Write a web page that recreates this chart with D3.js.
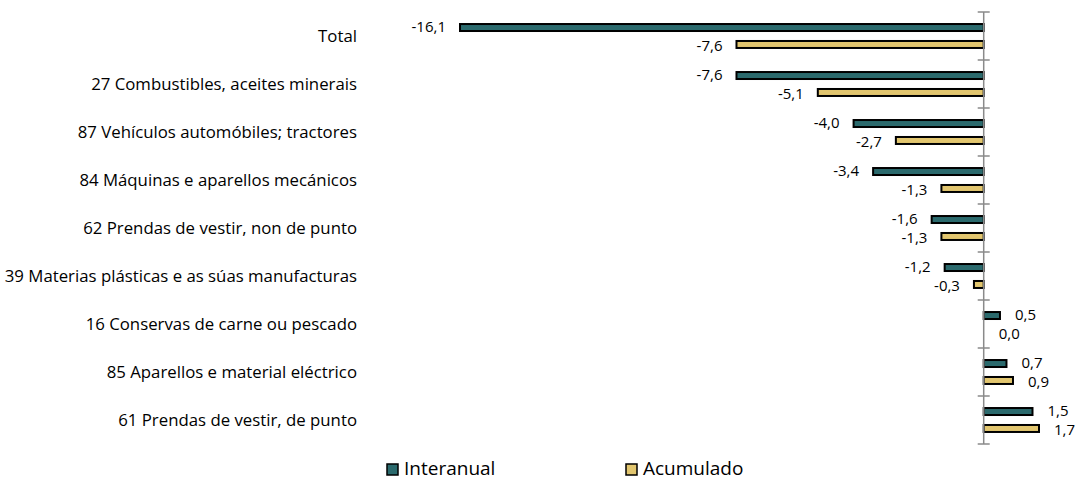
<!DOCTYPE html>
<html>
<head>
<meta charset="utf-8">
<script src="https://d3js.org/d3.v7.min.js"></script>
<style>
  body { margin: 0; background: #fff; }
  svg { font-family: "Open Sans", "Noto Sans", sans-serif; }
</style>
</head>
<body>
<svg id="drawing_region"></svg>
<script>
const categories = [
    "Total",
    "27 Combustibles, aceites minerais",
    "87 Vehículos automóbiles; tractores",
    "84 Máquinas e aparellos mecánicos",
    "62 Prendas de vestir, non de punto",
    "39 Materias plásticas e as súas manufacturas",
    "16 Conservas de carne ou pescado",
    "85 Aparellos e material eléctrico",
    "61 Prendas de vestir, de punto"
];
const seriesNames = ["Interanual", "Acumulado"];
const interanual = [-16.1, -7.6, -4.0, -3.4, -1.6, -1.2, 0.5, 0.7, 1.5];
const acumulado = [-7.6, -5.1, -2.7, -1.3, -1.3, -0.3, 0.0, 0.9, 1.7];
const colors = ["#2b6a6d", "#e2c66f"];

const width = 1078, height = 480;

const svg = d3.select('#drawing_region')
    .attr('width', width)
    .attr('height', height);

const xscale = d3.scaleLinear()
    .domain([-16.1, 1.7])
    .range([460, 1039]);

const yscale = d3.scaleBand()
    .domain(categories)
    .range([12, 444]);

const sscale = d3.scaleBand()
    .domain(seriesNames)
    .range([0, yscale.bandwidth()])
    .paddingInner(0.47)
    .paddingOuter(0.65);

const data = [];
categories.forEach((c, i) => {
    data.push({ cat: c, s: "Interanual", v: interanual[i] });
    data.push({ cat: c, s: "Acumulado", v: acumulado[i] });
});

const fmt = v => d3.format(".1f")(v).replace("−", "-").replace(".", ",");

// bars
svg.append('g').selectAll('rect')
    .data(data)
    .enter()
    .append('rect')
    .attr('x', d => Math.min(xscale(0), xscale(d.v)))
    .attr('y', d => yscale(d.cat) + sscale(d.s) + 1)
    .attr('width', d => Math.abs(xscale(d.v) - xscale(0)))
    .attr('height', sscale.bandwidth() - 2)
    .attr('fill', d => colors[seriesNames.indexOf(d.s)])
    .attr('stroke', '#000')
    .attr('stroke-width', 2);

// axis with crossing ticks
const axis = svg.append('g').attr('stroke', '#8a8a8a').attr('stroke-width', 1.5);
axis.append('line')
    .attr('x1', xscale(0)).attr('x2', xscale(0))
    .attr('y1', yscale.range()[0]).attr('y2', yscale.range()[1]);
const tickYs = categories.map(c => yscale(c)).concat([yscale.range()[1]]);
axis.selectAll('.tick')
    .data(tickYs)
    .enter()
    .append('line')
    .attr('x1', xscale(0) - 6).attr('x2', xscale(0) + 6)
    .attr('y1', d => d).attr('y2', d => d);

// value labels (pulled slightly apart so the pairs do not touch)
svg.append('g').selectAll('text')
    .data(data)
    .enter()
    .append('text')
    .attr('x', d => d.v < 0 ? xscale(d.v) - 14 : xscale(d.v) + 15)
    .attr('y', d => yscale(d.cat) + sscale(d.s) + sscale.bandwidth() / 2 + (d.s === "Interanual" ? -1 : 1.5))
    .attr('dy', '0.36em')
    .attr('text-anchor', d => d.v < 0 ? 'end' : 'start')
    .attr('font-size', '15px')
    .attr('fill', '#000')
    .text(d => fmt(d.v));

// category labels
svg.append('g').selectAll('text')
    .data(categories)
    .enter()
    .append('text')
    .attr('x', 357)
    .attr('y', d => yscale(d) + yscale.bandwidth() / 2)
    .attr('dy', '0.36em')
    .attr('text-anchor', 'end')
    .attr('font-size', '16.8px')
    .attr('fill', '#000')
    .text(d => d);

// legend
const legendX = [387, 626];
const legend = svg.append('g').selectAll('g')
    .data(seriesNames)
    .enter()
    .append('g')
    .attr('transform', (d, i) => `translate(${legendX[i]}, 464)`);
legend.append('rect')
    .attr('width', 11).attr('height', 11)
    .attr('fill', (d, i) => colors[i])
    .attr('stroke', '#000')
    .attr('stroke-width', 1.5);
legend.append('text')
    .attr('x', 17)
    .attr('y', 11)
    .attr('font-size', '19px')
    .attr('fill', '#000')
    .text(d => d);
</script>
</body>
</html>
